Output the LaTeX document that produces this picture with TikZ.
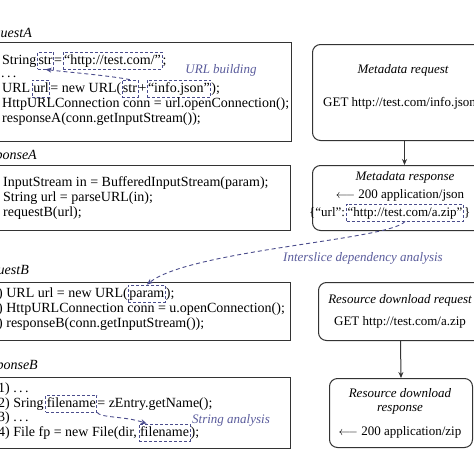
\documentclass[tikz,border=0pt]{standalone}
\usepackage{fontspec}
\setmainfont{Liberation Serif}
\usetikzlibrary{arrows.meta}
\definecolor{dcol}{HTML}{4A4C8C}
\definecolor{lcol}{HTML}{5A5C9C}
\definecolor{bcol}{HTML}{333333}
\newcommand{\cf}{\fontsize{14}{15}\selectfont}
\newcommand{\rf}{\fontsize{13}{15}\selectfont}
\begin{document}
\begin{tikzpicture}[x=1pt,y=-1pt,
 code/.style={font=\cf, inner sep=0pt, anchor=base west, text=black},
 dbox/.style={code, draw=dcol, dash pattern=on 3pt off 2pt, line width=0.8pt, inner xsep=1pt, inner ysep=1.5pt, text height=10.5pt, text depth=3.5pt},
 lbox/.style={draw=bcol, line width=1.3pt, anchor=north west, inner sep=0pt},
 rbox/.style={draw=bcol, line width=1pt, rounded corners=8pt, anchor=north west, inner sep=0pt},
 lab/.style={font=\cf\itshape, anchor=base east, inner sep=0pt},
 ann/.style={font=\rf\itshape, text=lcol, inner sep=0pt},
 dlink/.style={draw=dcol, dash pattern=on 4pt off 3pt, line width=0.9pt, -{Stealth[length=6pt,width=5pt]}},
 flow/.style={draw=bcol, line width=1pt, -{Stealth[length=6pt,width=5pt]}},
 rt/.style={font=\rf, inner sep=0pt},
]
\useasboundingbox (0,0) rectangle (474,474);
\clip (0,0) rectangle (474,474);
\fill[white] (0,0) rectangle (474,474);

% ---------- left column boxes ----------
\node[lbox, minimum width=301pt, minimum height=99pt] (boxA) at (-10,42) {};
\node[lbox, minimum width=300pt, minimum height=65pt] (boxRA) at (-10,165) {};
\node[lbox, minimum width=300pt, minimum height=58pt] (boxB) at (-10,282) {};
\node[lbox, minimum width=300pt, minimum height=71pt] (boxRB) at (-10,377) {};

\node[lab] (labA) at (32,37) {requestA};
\node[lab] (labRA) at (37,159) {responseA};
\node[lab] (labB) at (29,274) {requestB};
\node[lab] (labRB) at (38,369) {responseB};

% requestA code
\node[code] (a1a) at (2,64) {String};
\node[dbox] (str1) at ([xshift=0.5pt]a1a.base east) {str};
\node[code] (a1b) at (str1.base east) {=};
\node[dbox] (url1) at ([xshift=0.5pt]a1b.base east) {“http://test.com/”};
\node[code] (a1c) at (url1.base east) {;};
\node[code] (a2) at (1,77) {.\,.\,.};
\node[code] (a3a) at (2,92) {URL};
\node[dbox] (urlv) at ([xshift=1.5pt]a3a.base east) {url};
\node[code] (a3b) at (urlv.base east) {=\ new URL(};
\node[dbox] (str3) at (a3b.base east) {str};
\node[code] (a3c) at (str3.base east) {+};
\node[dbox] (info) at (a3c.base east) {“info.json”};
\node[code] (a3d) at (info.base east) {);};
\node[code] (a4) at (2,107) {HttpURLConnection conn = url.openConnection();};
\node[code] (a5) at (2,122) {responseA(conn.getInputStream());};
\node[ann] (annA) at (221,70) {URL building};

% responseA code
\node[code] (ra1) at (3,186) {InputStream in = BufferedInputStream(param);};
\node[code] (ra2) at (3,201) {String url = parseURL(in);};
\node[code] (ra3) at (3,216) {requestB(url);};

% requestB code
\node[code] (b1a) at (-9,297) {1) URL url = new URL(};
\node[dbox] (param) at (b1a.base east) {param};
\node[code] (b1b) at (param.base east) {);};
\node[code] (b2) at (-9,312) {2) HttpURLConnection conn = u.openConnection();};
\node[code] (b3) at (-9,327) {3) responseB(conn.getInputStream());};

% responseB code
\node[code] (rb1) at (-2,392) {1) .\,.\,.};
\node[code] (rb2a) at (-2,407) {2) Sring};
\node[dbox] (fn2) at ([xshift=1.5pt]rb2a.base east) {filename};
\node[code] (rb2b) at (fn2.base east) {=\ zEntry.getName();};
\node[code] (rb3) at (-2,421) {3) .\,.\,.};
\node[code] (rb4a) at (-2,436) {4) File fp = new File(dir,};
\node[dbox] (fn4) at ([xshift=1.5pt]rb4a.base east) {filename};
\node[code] (rb4b) at (fn4.base east) {);};
\node[ann] (annS) at (231,420) {String analysis};

% ---------- right column ----------
\node[rbox, minimum width=184pt, minimum height=96pt] (mreq) at (312,44) {};
\node[rbox, minimum width=184pt, minimum height=65pt] (mresp) at (312,165) {};
\node[rbox, minimum width=164pt, minimum height=58pt] (rreq) at (318,282) {};
\node[rbox, minimum width=143pt, minimum height=69pt] (rresp) at (329,378) {};

\node[rt, font=\rf\itshape] (t1) at (403,70) {Metadata request};
\node[rt, anchor=west] (t2) at (323,103) {GET http://test.com/info.json};
\node[rt, font=\rf\itshape] (t3) at (405,177) {Metadata response};
\node[rt] (t4) at (400,195) {$\longleftarrow$ 200 application/json};
\node[code, font=\rf] (t5a) at (309,216) {\{“url”:};
\node[dbox, font=\rf] (mzip) at ([xshift=1pt]t5a.base east) {“http://test.com/a.zip”};
\node[code, font=\rf] (t5b) at (mzip.base east) {\}};
\node[rt, font=\rf\itshape] (t6) at (400,300) {Resource download request};
\node[rt] (t7) at (400,322) {GET http://test.com/a.zip};
\node[rt, font=\rf\itshape] (t8) at (400,393) {Resource download};
\node[rt, font=\rf\itshape] (t9) at (400,410) {response};
\node[rt] (t10) at (400,432) {$\longleftarrow$ 200 application/zip};
\node[ann] (annI) at (363,258) {Interslice dependency analysis};

% ---------- connectors ----------
\draw[flow] (mreq.south) -- (mresp.north);
\draw[flow] (rreq.south) -- (rresp.north);
\draw[dlink] (str3.north) .. controls (105,75) and (65,72) .. (str1.south);
\draw[dlink] (mzip.south) .. controls (390,240) and (190,250) .. (param.north);
\draw[dlink] (fn2.south east) .. controls (100,418) and (125,416) .. ([xshift=8pt]fn4.north west);
\end{tikzpicture}
\end{document}
